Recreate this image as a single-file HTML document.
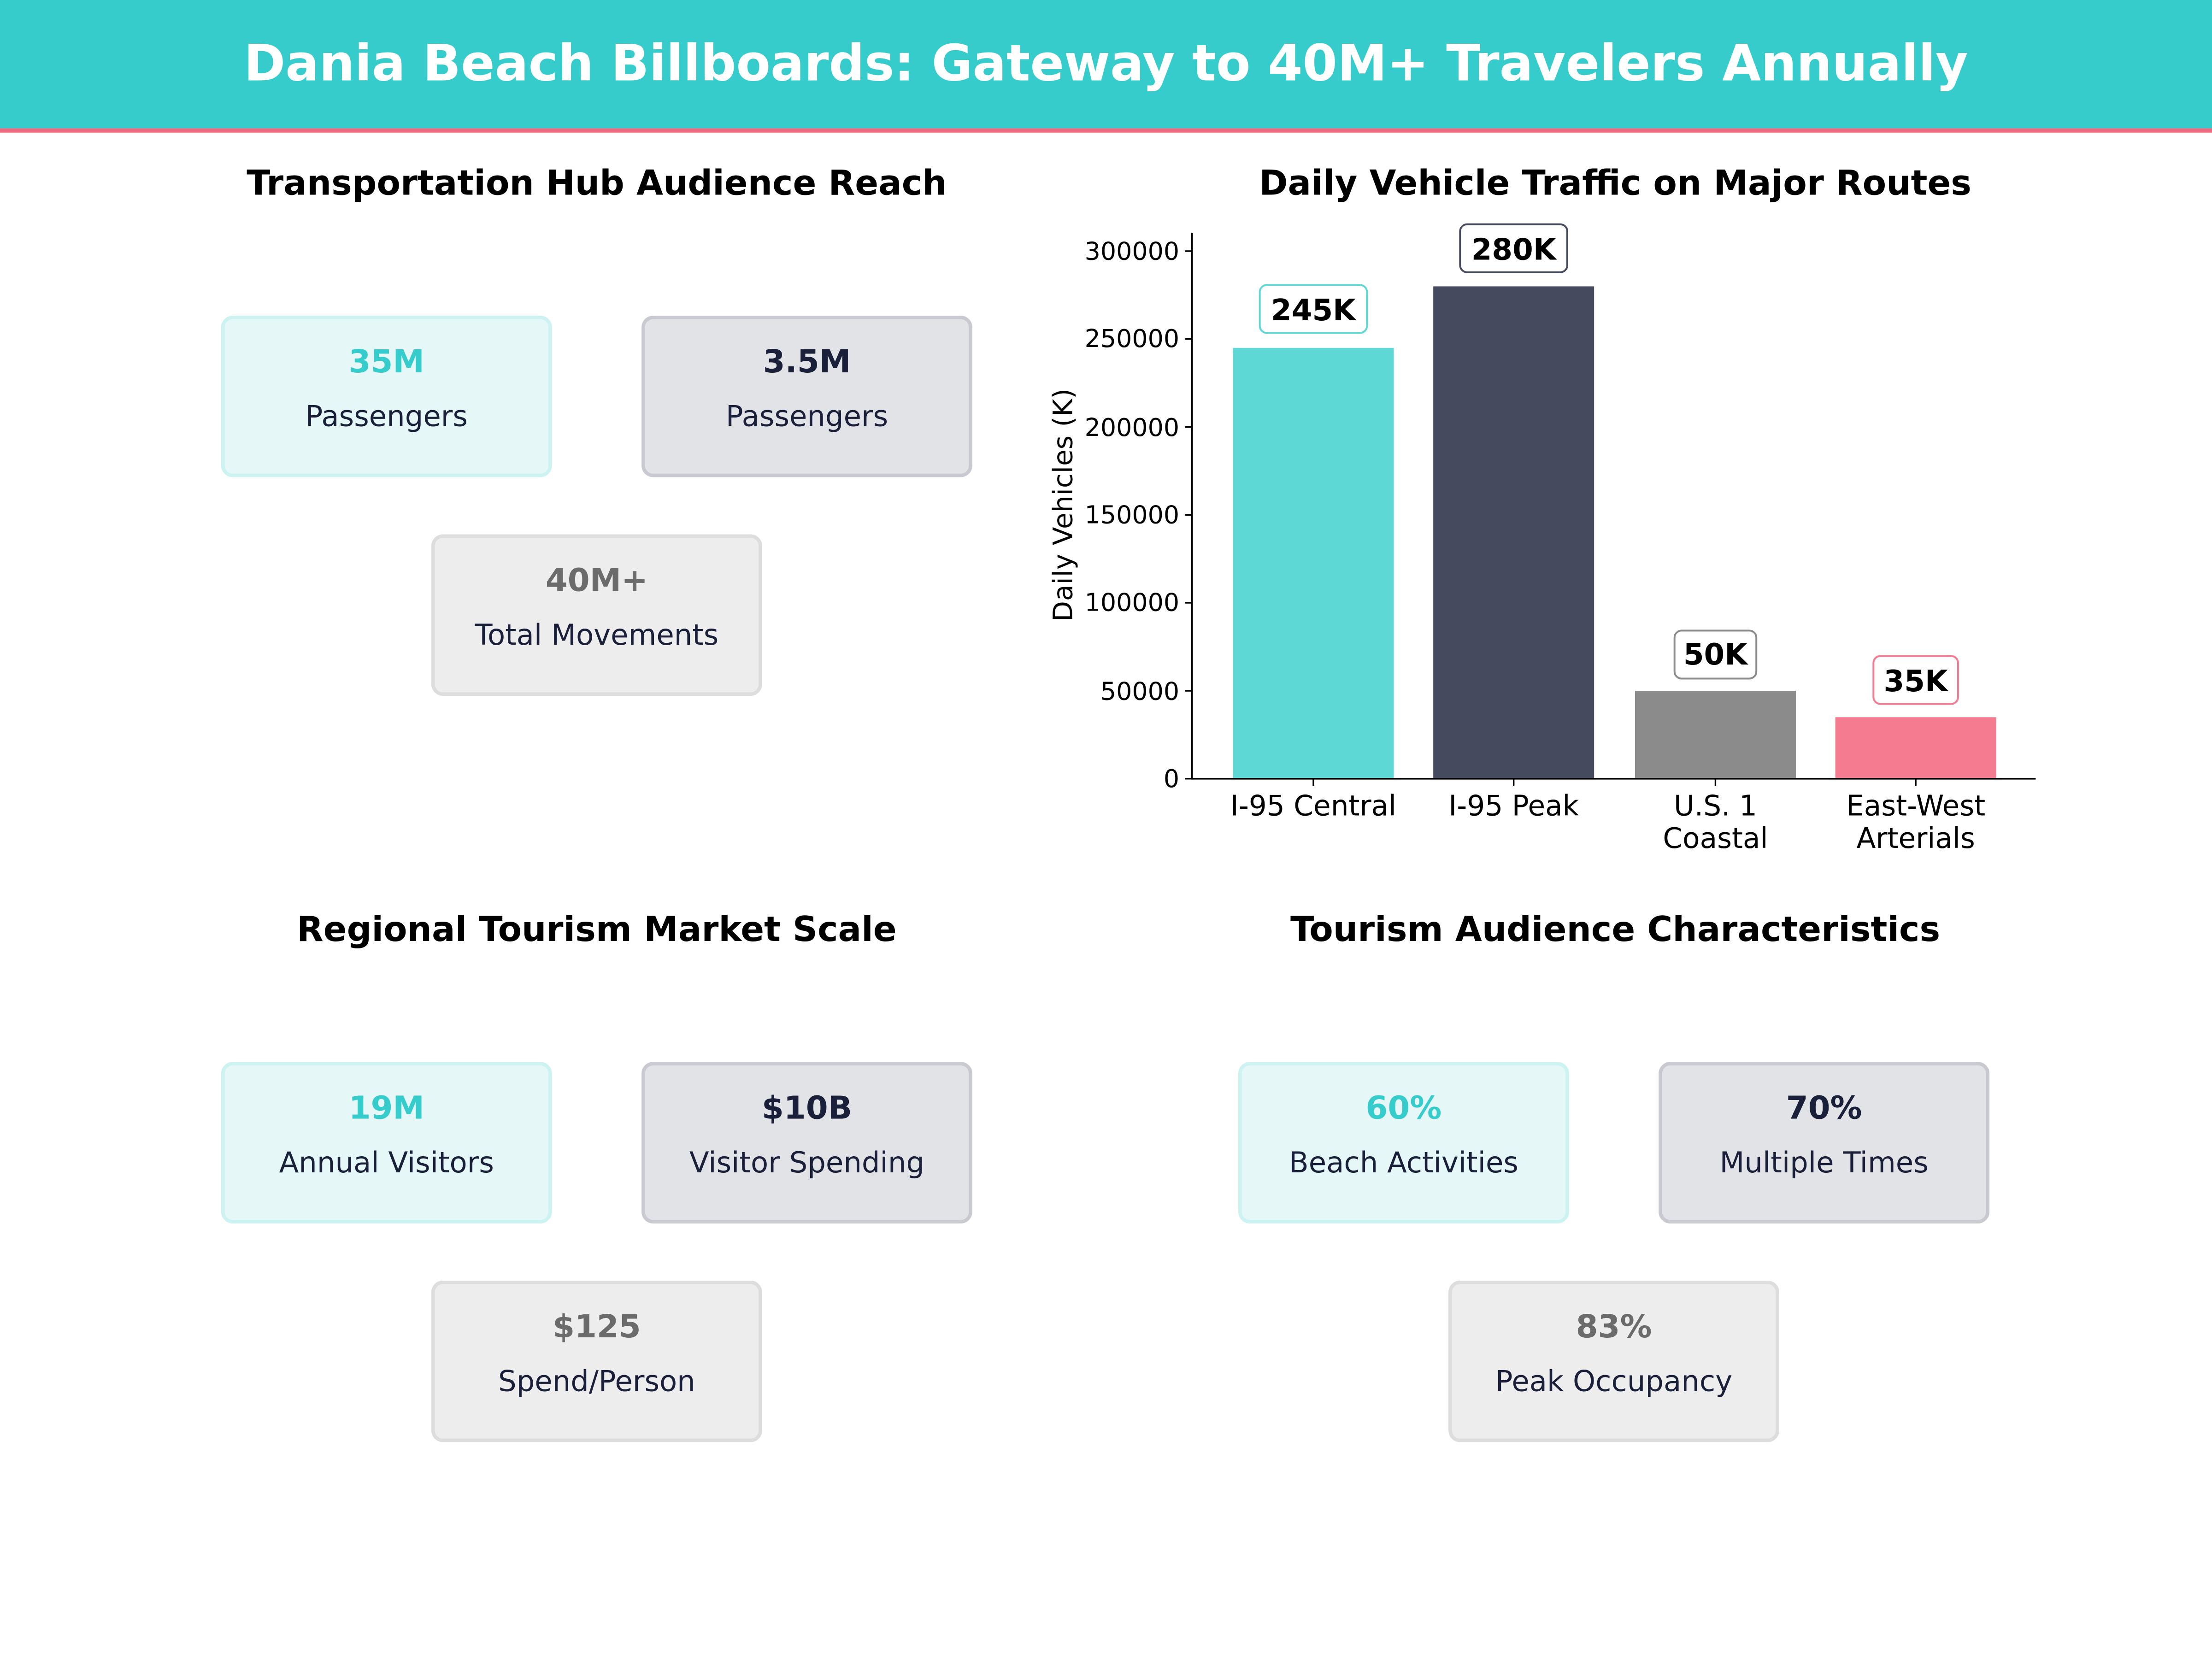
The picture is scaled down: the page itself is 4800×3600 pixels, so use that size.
<!DOCTYPE html>
<html><head><meta charset="utf-8"><style>
html,body{margin:0;padding:0;background:#fff;}
svg{display:block;}
text{font-family:"DejaVu Sans","Liberation Sans",sans-serif;}
</style></head><body>
<svg width="4800" height="3600" viewBox="0 0 1568 1176" xmlns="http://www.w3.org/2000/svg">
<rect x="0" y="0" width="1568" height="1176" fill="#fff"/>
<rect x="0" y="0" width="1568" height="91" fill="#36CCCC"/>
<rect x="0" y="91" width="1568" height="3" fill="#EF6A80"/>
<text x="784" y="57" text-anchor="middle" font-size="35.4" font-weight="bold" fill="#fff">Dania Beach Billboards: Gateway to 40M+ Travelers Annually</text>

<g font-size="24.5" font-weight="bold" fill="#000" text-anchor="middle">
<text x="423" y="138">Transportation Hub Audience Reach</text>
<text x="1145" y="138">Daily Vehicle Traffic on Major Routes</text>
<text x="423" y="667">Regional Tourism Market Scale</text>
<text x="1145" y="667">Tourism Audience Characteristics</text>
</g>

<g text-anchor="middle">
<rect x="158" y="225" width="232" height="112" rx="7" fill="#E5F7F7" stroke="#CDF2F2" stroke-width="2.5"/>
<text x="274" y="264" font-size="22.5" font-weight="bold" fill="#36CCCC">35M</text>
<text x="274" y="302" font-size="20.4" fill="#1A1F3A">Passengers</text>
<rect x="456" y="225" width="232" height="112" rx="7" fill="#E2E3E7" stroke="#C9C9D2" stroke-width="2.5"/>
<text x="572" y="264" font-size="22.5" font-weight="bold" fill="#1A1F3A">3.5M</text>
<text x="572" y="302" font-size="20.4" fill="#1A1F3A">Passengers</text>
<rect x="307" y="380" width="232" height="112" rx="7" fill="#EDEDED" stroke="#DDDDDD" stroke-width="2.5"/>
<text x="423" y="419" font-size="22.5" font-weight="bold" fill="#6B6B6B">40M+</text>
<text x="423" y="457" font-size="20.4" fill="#1A1F3A">Total Movements</text>
<rect x="158" y="754" width="232" height="112" rx="7" fill="#E5F7F7" stroke="#CDF2F2" stroke-width="2.5"/>
<text x="274" y="793" font-size="22.5" font-weight="bold" fill="#36CCCC">19M</text>
<text x="274" y="831" font-size="20.4" fill="#1A1F3A">Annual Visitors</text>
<rect x="456" y="754" width="232" height="112" rx="7" fill="#E2E3E7" stroke="#C9C9D2" stroke-width="2.5"/>
<text x="572" y="793" font-size="22.5" font-weight="bold" fill="#1A1F3A">$10B</text>
<text x="572" y="831" font-size="20.4" fill="#1A1F3A">Visitor Spending</text>
<rect x="307" y="909" width="232" height="112" rx="7" fill="#EDEDED" stroke="#DDDDDD" stroke-width="2.5"/>
<text x="423" y="948" font-size="22.5" font-weight="bold" fill="#6B6B6B">$125</text>
<text x="423" y="986" font-size="20.4" fill="#1A1F3A">Spend/Person</text>
<rect x="879" y="754" width="232" height="112" rx="7" fill="#E5F7F7" stroke="#CDF2F2" stroke-width="2.5"/>
<text x="995" y="793" font-size="22.5" font-weight="bold" fill="#36CCCC">60%</text>
<text x="995" y="831" font-size="20.4" fill="#1A1F3A">Beach Activities</text>
<rect x="1177" y="754" width="232" height="112" rx="7" fill="#E2E3E7" stroke="#C9C9D2" stroke-width="2.5"/>
<text x="1293" y="793" font-size="22.5" font-weight="bold" fill="#1A1F3A">70%</text>
<text x="1293" y="831" font-size="20.4" fill="#1A1F3A">Multiple Times</text>
<rect x="1028" y="909" width="232" height="112" rx="7" fill="#EDEDED" stroke="#DDDDDD" stroke-width="2.5"/>
<text x="1144" y="948" font-size="22.5" font-weight="bold" fill="#6B6B6B">83%</text>
<text x="1144" y="986" font-size="20.4" fill="#1A1F3A">Peak Occupancy</text>
</g>

<g>
<rect x="874" y="246.6" width="114" height="305.4" fill="#5DD8D4"/>
<rect x="1016" y="203" width="114" height="349" fill="#454A5E"/>
<rect x="1159" y="489.7" width="114" height="62.3" fill="#8B8B8B"/>
<rect x="1301" y="508.4" width="114" height="43.6" fill="#F47C90"/>
<line x1="845" y1="165" x2="845" y2="552.6" stroke="#000" stroke-width="1.2"/>
<line x1="844.4" y1="552" x2="1443" y2="552" stroke="#000" stroke-width="1.2"/>
<g stroke="#000" stroke-width="1.1">
<line x1="840" y1="552" x2="845" y2="552"/><line x1="840" y1="489.7" x2="845" y2="489.7"/>
<line x1="840" y1="427.3" x2="845" y2="427.3"/><line x1="840" y1="365" x2="845" y2="365"/>
<line x1="840" y1="302.7" x2="845" y2="302.7"/><line x1="840" y1="240.3" x2="845" y2="240.3"/>
<line x1="840" y1="178" x2="845" y2="178"/>
<line x1="931" y1="552" x2="931" y2="557"/><line x1="1073" y1="552" x2="1073" y2="557"/>
<line x1="1216" y1="552" x2="1216" y2="557"/><line x1="1358" y1="552" x2="1358" y2="557"/>
</g>
<g font-size="17.6" fill="#000" text-anchor="end">
<text x="836" y="558">0</text><text x="836" y="496">50000</text><text x="836" y="433">100000</text>
<text x="836" y="371">150000</text><text x="836" y="309">200000</text><text x="836" y="246">250000</text>
<text x="836" y="184">300000</text>
</g>
<g font-size="20" fill="#000" text-anchor="middle">
<text x="931" y="578">I-95 Central</text><text x="1073" y="578">I-95 Peak</text>
<text x="1216" y="578">U.S. 1</text><text x="1216" y="601">Coastal</text>
<text x="1358" y="578">East-West</text><text x="1358" y="601">Arterials</text>
</g>
<text transform="translate(760,358) rotate(-90)" font-size="19" text-anchor="middle" fill="#000">Daily Vehicles (K)</text>
<g stroke-width="1.3" fill="#fff">
<rect x="893" y="202" width="76" height="34" rx="5" stroke="#5DD8D4"/>
<rect x="1035" y="159" width="76" height="34" rx="5" stroke="#454A5E"/>
<rect x="1187" y="447" width="58" height="34" rx="5" stroke="#8B8B8B"/>
<rect x="1328" y="465" width="60" height="34" rx="5" stroke="#F47C90"/>
</g>
<g font-size="21" font-weight="bold" fill="#000" text-anchor="middle">
<text x="931" y="227">245K</text><text x="1073" y="184">280K</text>
<text x="1216" y="471">50K</text><text x="1358" y="490">35K</text>
</g>
</g>
</svg>
</body></html>
